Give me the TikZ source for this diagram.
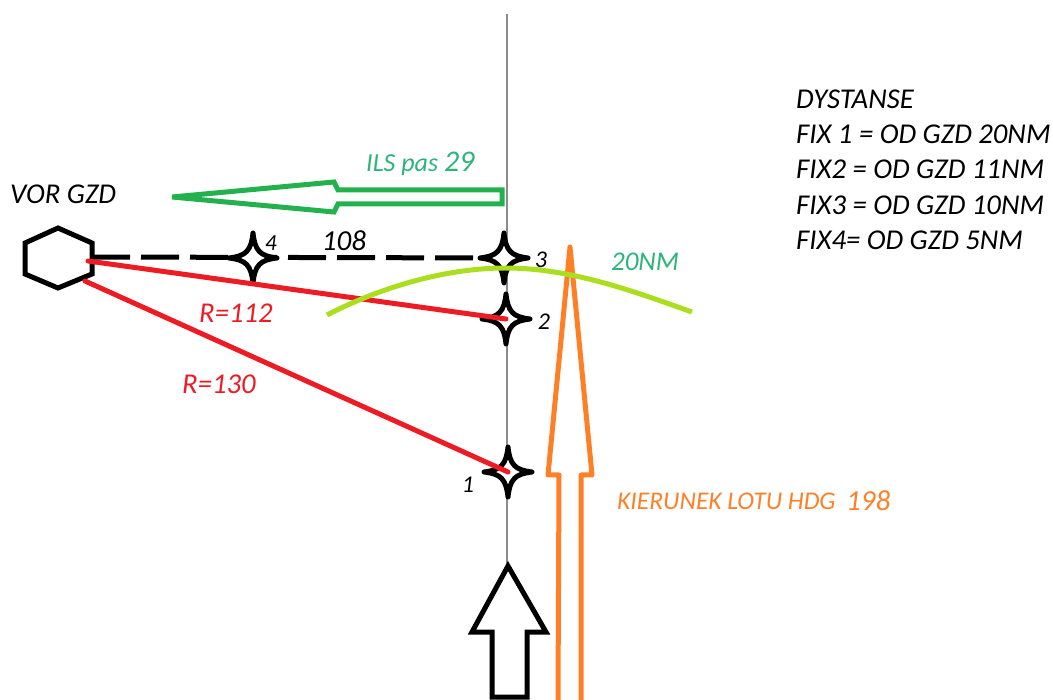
\documentclass[tikz,border=0pt]{standalone}
\usepackage{fontspec}
\setmainfont{Carlito}
\definecolor{ilsgreen}{RGB}{34,177,76}
\definecolor{arcgreen}{RGB}{172,222,32}
\definecolor{arcfont}{RGB}{45,180,120}
\definecolor{hdgorange}{RGB}{255,127,39}
\definecolor{radialred}{RGB}{237,28,36}
\tikzset{
  fixstar/.pic={
    \draw[line width=5pt,fill=white,line join=round]
      (-24,0) .. controls (-7,-2) and (-2,-7) .. (0,-25)
      .. controls (2,-7) and (7,-2) .. (24,0)
      .. controls (7,2) and (2,7) .. (0,25)
      .. controls (-2,7) and (-7,2) .. (-24,0) -- cycle;
  },
  txt/.style={font=\fontsize{#1}{#1}\selectfont\itshape,inner sep=0pt},
  txt/.default=28.7,
  outline/.style={line width=5pt,line join=miter},
}
\begin{document}
\begin{tikzpicture}[x=1pt,y=-1pt]
  \useasboundingbox (0,0) rectangle (1053,700);
  \coordinate (fix1) at (508,472);
  \coordinate (fix2) at (506,319);
  \coordinate (fix3) at (504,258);
  \coordinate (fix4) at (253,258);
  \coordinate (vortop) at (92,257);
  \coordinate (vorred) at (88,261);
  \coordinate (vorlow) at (85,281);
  \coordinate (axistop) at (507,14);
  \coordinate (axislow) at (507,566);
  % approach axis
  \draw[black!45,line width=2.5pt] (axistop) -- (axislow);
  \draw[line width=5pt] (58,228) -- (92,243) -- (92,274) -- (58,288) -- (25,274) -- (25,243) -- cycle;
  \draw[line width=5pt,dash pattern=on 38pt off 11pt] (vortop) -- (fix3);
  \foreach \fix in {fix1,fix2,fix3,fix4} {
    \pic at (\fix) {fixstar};
  }
  \draw[radialred,line width=5pt,line cap=round] (vorred) -- (fix2);
  \draw[radialred,line width=5pt,line cap=round] (vorlow) -- (fix1);
  % arrows
  \draw[ilsgreen,outline] (172,197) -- (334,182) -- (338,190) -- (502,190) -- (502,204) -- (338,204) -- (334,212) -- cycle;
  \draw[hdgorange,outline,line join=round] (558,700) -- (559,475) -- (548,475) -- (570,247) -- (592,475) -- (581,475) -- (581,700);
  \draw[outline] (508,566) -- (546,632) -- (527,632) -- (527,697) -- (492,697) -- (492,632) -- (472,632) -- cycle;
  \draw[arcgreen,line width=5pt] (327,315) .. controls (385,285) and (450,268) .. (505,268)
    .. controls (570,268) and (630,290) .. (692,312);
  % labels
  \node[txt,anchor=west] (vorlabel) at (10,194) {VOR GZD};
  \node[txt=23,anchor=center] (label4) at (271,243) {4};
  \node[txt=29,anchor=center] (label108) at (344,241) {108};
  \node[txt=24,anchor=center] (label3) at (541,260) {3};
  \node[txt=24,anchor=center] (label2) at (544,322) {2};
  \node[txt=24,anchor=center] (label1) at (468,485) {1};
  \node[txt,radialred,anchor=center] (r112) at (236,313) {R=112};
  \node[txt,radialred,anchor=center] (r130) at (219,384) {R=130};
  \node[txt=26,arcfont,anchor=west] (ilslabel) at (366,164) {ILS pas \fontsize{30}{30}\selectfont 29};
  \node[txt=27,arcfont,anchor=center] (arclabel) at (645,262) {20NM};
  \node[txt=25.5,hdgorange,anchor=west] (hdglabel) at (617,501) {KIERUNEK LOTU HDG};
  \node[txt=29,hdgorange,anchor=west] (hdgvalue) at (846,501) {198};
  \node[txt,anchor=west] (dist0) at (796,99) {DYSTANSE};
  \node[txt,anchor=west] (dist1) at (796,134) {FIX 1 = OD GZD 20NM};
  \node[txt,anchor=west] (dist2) at (796,169) {FIX2 = OD GZD 11NM};
  \node[txt,anchor=west] (dist3) at (796,205) {FIX3 = OD GZD 10NM};
  \node[txt,anchor=west] (dist4) at (796,240) {FIX4= OD GZD 5NM};
\end{tikzpicture}
\end{document}
